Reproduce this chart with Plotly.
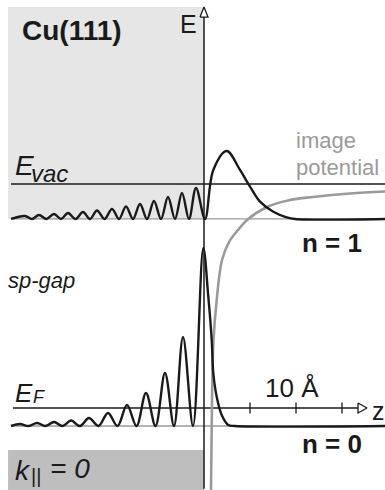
import plotly.graph_objects as go

# ---------------- data (z in Angstrom, energy in eV relative to E_F) ----------------
E_VAC = 4.94          # vacuum level
E_F = 0.0             # Fermi level
E_N1 = 4.17           # n = 1 image-potential state
E_N0 = -0.397         # n = 0 (Shockley) surface state
Z_TICKS = [5, 10, 15]

# n = 1 probability density: extrema positions and heights above E_N1
N1_Z = [-20.978, -19.457, -18.696, -17.935, -17.120, -16.304, -15.543, -14.783,
        -13.967, -13.152, -12.391, -11.630, -10.815, -10.0, -9.239, -8.478,
        -7.717, -6.957, -6.196, -5.435, -4.674, -3.913, -3.152, -2.391,
        -1.630, -0.870, 0.109, 1.011, 2.467, 3.913, 5.0, 6.087, 7.533,
        8.989, 9.891, 19.674]
N1_A = [0.0, 0.066, 0.0, 0.088, 0.0, 0.110, 0.0, 0.132,
        0.0, 0.154, 0.0, 0.187, 0.0, 0.221, 0.0, 0.276,
        0.0, 0.331, 0.0, 0.397, 0.0, 0.485, 0.0, 0.573,
        0.0, 0.684, 0.0, 1.081, 1.500, 1.081, 0.713, 0.382, 0.161,
        0.037, 0.0, 0.0]

# n = 0 probability density: extrema positions and heights above E_N0
N0_Z = [-20.978, -20.0, -19.076, -18.152, -17.228, -16.304, -15.380, -14.457,
        -13.478, -12.5, -11.467, -10.435, -9.402, -8.370, -7.337, -6.304,
        -5.272, -4.239, -3.261, -2.283, -1.196, -0.076, 0.467, 0.837,
        1.011, 1.380, 1.924, 2.641, 3.370, 19.674]
N0_A = [0.0, 0.044, 0.0, 0.066, 0.0, 0.088, 0.0, 0.121,
        0.0, 0.176, 0.0, 0.287, 0.0, 0.463, 0.0, 0.728,
        0.0, 1.169, 0.0, 1.963, 0.0, 3.926, 2.852, 1.897,
        1.169, 0.646, 0.243, 0.022, 0.0, 0.0]

# image potential
IP_Z = [0.761, 0.870, 1.033, 1.380, 1.957, 2.717, 3.696, 4.674, 6.848,
        9.348, 11.848, 15.870, 19.674]
IP_E = [-1.809, 0.176, 1.500, 2.382, 3.264, 3.661, 3.926, 4.146, 4.433,
        4.588, 4.654, 4.731, 4.775]

# ---------------- figure ----------------
X_MIN, X_MAX = -22.174, 19.674
Y_MIN, Y_MAX = -1.8085, 9.0
LEFT, RIGHT = -20.978, 19.674

BLACK = "#1a1a1a"
GRAY = "#9a9a9a"
FONT = "Liberation Sans"

fig = go.Figure()


def line(x, y, color, width, shape="linear", fill=None, fillcolor=None):
    fig.add_trace(go.Scatter(x=x, y=y, mode="lines",
                             line=dict(color=color, width=width, shape=shape, smoothing=1.0),
                             fill=fill, fillcolor=fillcolor,
                             hoverinfo="skip", showlegend=False))


# background regions
fig.add_shape(type="rect", x0=-21.30, x1=0, y0=E_N1, y1=8.844,
              fillcolor="#e6e6e6", line_width=0, layer="below")
fig.add_shape(type="rect", x0=-21.30, x1=0, y0=Y_MIN, y1=-0.926,
              fillcolor="#bebebe", line_width=0, layer="below")

# gray baselines of the two states
line([LEFT, RIGHT], [E_N1, E_N1], GRAY, 1.3)
line([LEFT, RIGHT], [E_N0, E_N0], GRAY, 1.3)

# vacuum level
line([LEFT, RIGHT], [E_VAC, E_VAC], BLACK, 1.5)

# z axis at E_F with ticks and open arrow
line([-20.76, 16.74], [E_F, E_F], BLACK, 1.5)
for t in Z_TICKS:
    line([t, t], [E_F - 0.12, E_F + 0.12], BLACK, 1.3)
line([16.74, 17.72, 16.74, 16.74], [E_F + 0.11, E_F, E_F - 0.11, E_F + 0.11],
     BLACK, 1.3, fill="toself", fillcolor="white")

# image potential
line(IP_Z, IP_E, GRAY, 2.6, shape="spline")

# wavefunctions
line(N1_Z, [E_N1 + a for a in N1_A], BLACK, 2.4, shape="spline")
line(N0_Z, [E_N0 + a for a in N0_A], BLACK, 2.4, shape="spline")

# energy axis with open arrow
line([0, 0], [-1.78, 8.624], BLACK, 1.5)
line([-0.435, 0, 0.435, -0.435], [8.624, 8.844, 8.624, 8.624],
     BLACK, 1.3, fill="toself", fillcolor="white")


def label(text, x, y, size, color=BLACK):
    fig.add_annotation(text=text, x=x, y=y, xref="x", yref="y", showarrow=False,
                       xanchor="left", yanchor="middle", borderpad=0,
                       font=dict(family=FONT, size=size, color=color))


label("<b>Cu(111)</b>", -19.9, 8.337, 28)
label("E", -2.7, 8.469, 25)
label("<i>E</i>", -20.6, 5.353, 28)
label("<i>vac</i>", -18.95, 5.174, 24)
label("image", 9.9, 5.902, 22, GRAY)
label("potential", 9.9, 5.307, 22, GRAY)
label("<b>n = 1</b>", 10.55, 3.639, 26)
label("<i>sp-gap</i>", -21.4, 2.808, 22)
label("<i>E</i>", -20.6, 0.331, 26)
label("<i>F</i>", -18.75, 0.254, 18)
label("10 Å", 6.55, 0.441, 26)
label("z", 18.1, -0.073, 25)
label("<b>n = 0</b>", 10.55, -0.794, 26)
label("<i>k</i>", -20.6, -1.374, 28)
label("||", -18.95, -1.495, 20)
label("<i>= 0</i>", -16.8, -1.345, 28)

fig.update_layout(
    width=385, height=490,
    margin=dict(l=0, r=0, t=0, b=0),
    paper_bgcolor="white", plot_bgcolor="white",
    xaxis=dict(range=[X_MIN, X_MAX], visible=False, fixedrange=True),
    yaxis=dict(range=[Y_MIN, Y_MAX], visible=False, fixedrange=True),
    showlegend=False,
)

fig.write_html("out.html", config={"displayModeBar": False},
               post_script="document.body.style.margin='0';document.body.style.overflow='hidden';")
